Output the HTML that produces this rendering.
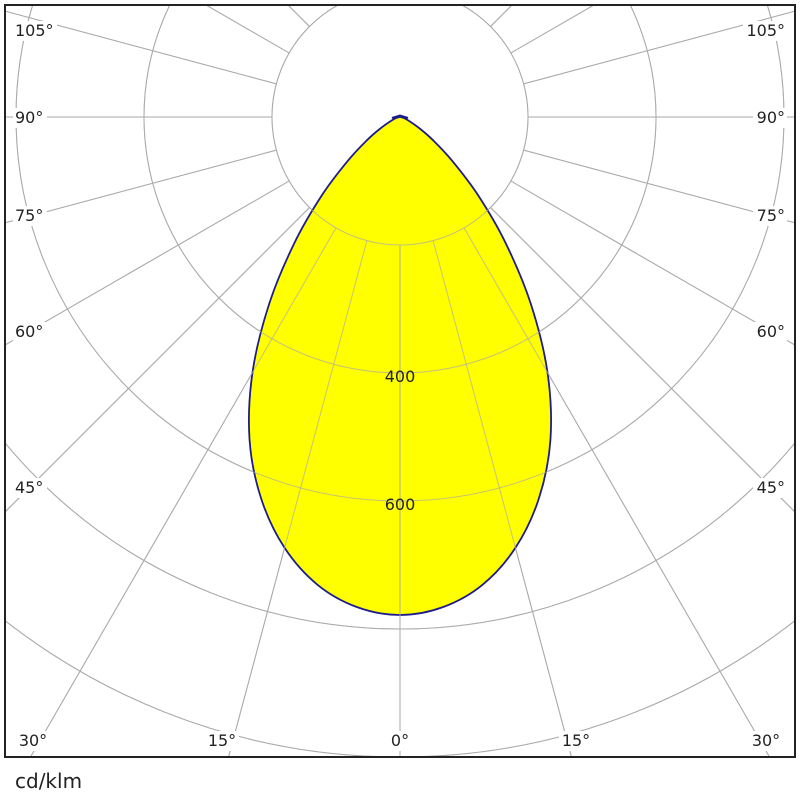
<!DOCTYPE html>
<html><head><meta charset="utf-8"><style>
html,body{margin:0;padding:0;background:#fff;width:800px;height:800px;overflow:hidden}
svg{display:block}
text{font-family:"DejaVu Sans","Liberation Sans",sans-serif;font-size:16px;fill:#222}
</style></head><body>
<svg id="s" width="800" height="800" xmlns="http://www.w3.org/2000/svg">
<g id="grid" clip-path="url(#c)"></g>
<path id="curve" fill="#ffff00" stroke="#1c1c8c" stroke-width="1.8"/>
<g id="grid2" clip-path="url(#c)"></g>
<path d="M392,118 L400,115.5 L408,118" fill="none" stroke="#1c1c8c" stroke-width="2"/>
<g id="labels"></g>
<rect x="5" y="5" width="790" height="752" fill="none" stroke="#222" stroke-width="2"/>
<text x="15" y="788" style="font-size:20px">cd/klm</text>
<defs><clipPath id="c"><rect x="5" y="5" width="790" height="752"/></clipPath></defs>
</svg>
<script>
var NS="http://www.w3.org/2000/svg",cx=400,cy=117;
function el(t,a,p){var e=document.createElementNS(NS,t);for(var k in a)e.setAttribute(k,a[k]);p.appendChild(e);return e;}
function drawGrid(g,op){
 for(var i=1;i<=8;i++)el('circle',{cx:cx,cy:cy,r:128*i,fill:'none',stroke:'#aaa','stroke-width':1,opacity:op},g);
 for(var a=0;a<=180;a+=15){var t=a*Math.PI/180;for(var sgn=-1;sgn<=1;sgn+=2){
  el('line',{x1:cx+sgn*128*Math.sin(t),y1:cy+128*Math.cos(t),x2:cx+sgn*1200*Math.sin(t),y2:cy+1200*Math.cos(t),stroke:'#aaa','stroke-width':1,opacity:op},g);}}
}
drawGrid(document.getElementById('grid'),1);
var A=[0,5,10,15,20,25,30,35,40,45,50,55,60,70,80,90],R=[498,492,475,446,406,356,295,228,164,110,68,40,22,7,2,0];
var half=[];
for(var i=0;i<A.length;i++){var t=A[i]*Math.PI/180;half.push([cx+R[i]*Math.sin(t),cy+R[i]*Math.cos(t)]);}
// full closed loop: right side from tip to bottom, then left side bottom to tip
var P=[];
for(var i=half.length-1;i>=0;i--)P.push(half[i]);
for(var i=1;i<half.length-1;i++)P.push([2*cx-half[i][0],half[i][1]]);
var n=P.length,d='M'+P[0][0]+','+P[0][1];
for(var i=0;i<n;i++){
 var p0=P[(i-1+n)%n],p1=P[i],p2=P[(i+1)%n],p3=P[(i+2)%n];
 var c1=[p1[0]+(p2[0]-p0[0])/6,p1[1]+(p2[1]-p0[1])/6],c2=[p2[0]-(p3[0]-p1[0])/6,p2[1]-(p3[1]-p1[1])/6];
 d+=' C'+c1.join(',')+' '+c2.join(',')+' '+p2.join(',');
}
document.getElementById('curve').setAttribute('d',d+'Z');
drawGrid(document.getElementById('grid2'),0.7);
var L=document.getElementById('labels');
function lab(x,y,s,anchor){var w=s.length*10+4;var x0=anchor=='start'?x-2:anchor=='end'?x-w+2:x-w/2;
 el('rect',{x:x0,y:y-15,width:w,height:20,fill:'#fff'},L);
 var t=el('text',{x:x,y:y,'text-anchor':anchor},L);t.textContent=s;}
[['105°',36],['90°',123],['75°',221],['60°',337],['45°',493]].forEach(function(p){lab(15,p[1],p[0],'start');lab(785,p[1],p[0],'end');});
lab(33,746,'30°','middle');lab(222,746,'15°','middle');lab(400,746,'0°','middle');lab(576,746,'15°','middle');lab(766,746,'30°','middle');
var t=el('text',{x:400,y:382,'text-anchor':'middle'},L);t.textContent='400';
t=el('text',{x:400,y:510,'text-anchor':'middle'},L);t.textContent='600';
</script>
</body></html>
